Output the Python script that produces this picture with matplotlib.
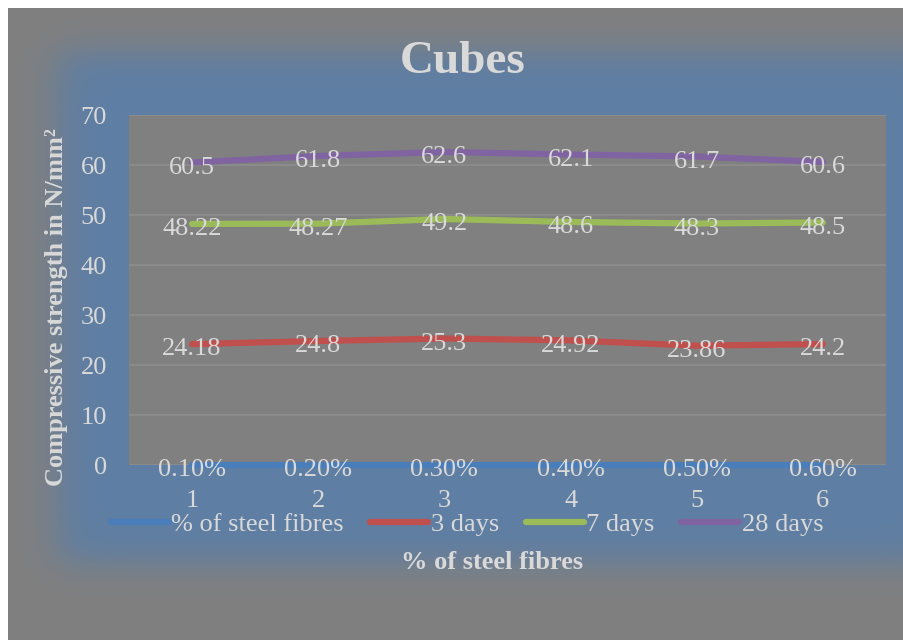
import numpy as np
import matplotlib
matplotlib.use("Agg")
import matplotlib.pyplot as plt
from matplotlib import font_manager as fm

# ---- data ----
categories = [1, 2, 3, 4, 5, 6]
steel_pct = [0.001, 0.002, 0.003, 0.004, 0.005, 0.006]
steel_labels = ["0.10%", "0.20%", "0.30%", "0.40%", "0.50%", "0.60%"]
days3 = [24.18, 24.8, 25.3, 24.92, 23.86, 24.2]
days7 = [48.22, 48.27, 49.2, 48.6, 48.3, 48.5]
days28 = [60.5, 61.8, 62.6, 62.1, 61.7, 60.6]
days3_labels = ["24.18", "24.8", "25.3", "24.92", "23.86", "24.2"]
days7_labels = ["48.22", "48.27", "49.2", "48.6", "48.3", "48.5"]
days28_labels = ["60.5", "61.8", "62.6", "62.1", "61.7", "60.6"]
series_names = ["% of steel fibres", "3 days", "7 days", "28 days"]
yticks = [0, 10, 20, 30, 40, 50, 60, 70]

W, H = 904, 640


def find_font(key, bold):
    for f in fm.fontManager.ttflist:
        if f.name == 'Liberation Serif' and f.style == 'normal':
            w = f.weight if isinstance(f.weight, int) else (700 if 'bold' in str(f.weight) else 400)
            if (w >= 600) == bold:
                return f.fname
    for p in fm.findSystemFonts():
        if key in p:
            return p
    return None

reg_path = find_font('LiberationSerif-Regular', False)
bold_path = find_font('LiberationSerif-Bold.', True)

def FP(size, bold=False):
    p = bold_path if bold else reg_path
    if p:
        return fm.FontProperties(fname=p, size=size)
    return fm.FontProperties(family='serif', size=size, weight='bold' if bold else 'normal')

TXT = '#d9d9d9'
GRAY = np.array([128, 128, 128]) / 255.0
BLUE = np.array([94, 126, 164]) / 255.0

fig = plt.figure(figsize=(W / 100, H / 100), dpi=100, facecolor='white')

def fx(px):
    return px / W

def fy(py):
    return 1 - py / H

# background with soft blue glow
bg = fig.add_axes([fx(8), 0, (W - 8) / W, (H - 8) / H])
bg.set_axis_off()
X, Y = np.meshgrid(np.arange(8, W) + 0.5, np.arange(8, H) + 0.5)
def st(v, c, s):
    return 0.5 * (1 + np.tanh((v - c) / s))
a = st(X, 58, 24) * st(950 - X, 0, 25) * st(Y, 52, 20) * st(562 - Y, 0, 20)
img = GRAY[None, None, :] * (1 - a[..., None]) + BLUE[None, None, :] * a[..., None]
bg.imshow(img, aspect='auto', extent=[8, W, H, 8], interpolation='bilinear')
bg.set_xlim(8, W)
bg.set_ylim(H, 8)

# plot area
L, R, T, B = 129, 886, 115, 465
ax = fig.add_axes([fx(L), fy(B), (R - L) / W, (B - T) / H])
ax.set_facecolor('#808080')
for s in ax.spines.values():
    s.set_visible(False)
ax.set_xlim(0.5, 6.5)
ax.set_ylim(0, 70)
ax.set_yticks(yticks)
ax.set_yticklabels([str(v) for v in yticks], fontproperties=FP(19), color=TXT)
ax.yaxis.grid(True, color='#8e8e8e', linewidth=1.2)
ax.set_axisbelow(True)
ax.tick_params(axis='y', length=0, pad=16)
ax.set_xticks(categories)
ax.set_xticklabels([str(c) for c in categories], fontproperties=FP(19), color=TXT)
ax.tick_params(axis='x', length=0, pad=18)

colors = ['#4a7ebb', '#c0504d', '#9bbb59', '#8064a2']
data = [steel_pct, days3, days7, days28]
labels = [steel_labels, days3_labels, days7_labels, days28_labels]
handles = []
for vals, lab, col, name in zip(data, labels, colors, series_names):
    ln, = ax.plot(categories, vals, color=col, linewidth=4.5,
                  solid_capstyle='round', label=name, clip_on=False, zorder=3)
    handles.append(ln)
    for xv, yv, t in zip(categories, vals, lab):
        ax.annotate(t, (xv, yv), xytext=(0, -8), textcoords='offset points',
                    ha='center', va='baseline', fontproperties=FP(19), color=TXT,
                    zorder=4, annotation_clip=False)

leg = fig.legend(handles=handles, loc='center', bbox_to_anchor=(fx(467), fy(524)),
                 ncol=4, frameon=False, prop=FP(19), handlelength=2.2,
                 handletextpad=0.1, columnspacing=1.0, labelcolor=TXT,
                 borderaxespad=0, borderpad=0)

fig.text(fx(463), fy(73), 'Cubes', ha='center', va='baseline',
         fontproperties=FP(34, True), color=TXT)
fig.text(fx(492), fy(569), '% of steel fibres', ha='center', va='baseline',
         fontproperties=FP(19, True), color=TXT)
fig.text(fx(57), fy(307), 'Compressive strength in N/mm\u00b2', ha='center',
         va='center', rotation=90, fontproperties=FP(19, True), color=TXT)

fig.savefig('out.png', dpi=100, facecolor=fig.get_facecolor())
